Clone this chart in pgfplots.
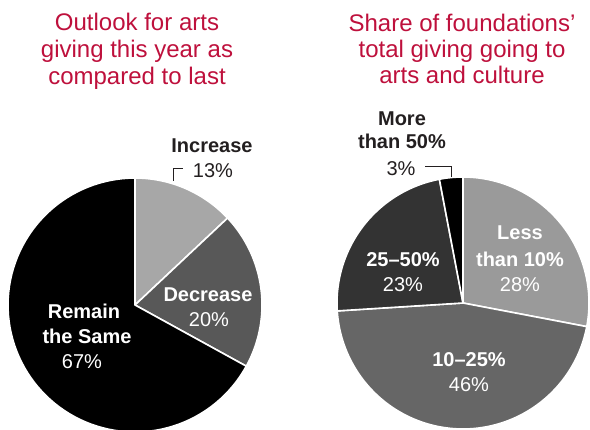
\documentclass[border=0pt]{standalone}
\usepackage{pgfplots}
\pgfplotsset{compat=1.18}
\usepackage{fontspec}
\setmainfont{Liberation Sans}
\definecolor{titlered}{RGB}{190,16,60}
\definecolor{ink}{RGB}{35,31,32}
\definecolor{lgA}{RGB}{167,167,167}
\definecolor{dgA}{RGB}{88,88,88}
\definecolor{lgB}{RGB}{154,154,154}
\definecolor{mgB}{RGB}{102,102,102}
\definecolor{dgB}{RGB}{51,51,51}
% slice: center x, center y, radius, start %, end %, colour
\newcommand{\slice}[6]{%
  \pgfmathsetmacro{\sa}{#4*3.6}%
  \pgfmathsetmacro{\sb}{#5*3.6}%
  \addplot[fill=#6, draw=white, line width=1.6bp, line join=round, domain=\sa:\sb, samples=90]
    ({#1+#3*sin(x)},{#2+#3*cos(x)}) -- (axis cs:#1,#2) -- cycle;
}
\newcommand{\ttl}[3]{\node[anchor=base, text=titlered, font=\fontsize{24bp}{27bp}\selectfont] at (axis cs:#1,#2) {#3};}
\newcommand{\lb}[4]{\node[anchor=base, text=#3, font=\fontsize{20bp}{24bp}\selectfont\bfseries] at (axis cs:#1,#2) {#4};}
\newcommand{\lr}[4]{\node[anchor=base, text=#3, font=\fontsize{20bp}{24bp}\selectfont] at (axis cs:#1,#2) {#4};}
\begin{document}
\begin{tikzpicture}
\useasboundingbox (0,0) rectangle (590bp,430bp);
\begin{axis}[at={(0,0)}, anchor=south west, scale only axis,
  width=590bp, height=430bp, xmin=0, xmax=590, ymin=0, ymax=430,
  hide axis, clip=true]
% left pie: Increase 13, Decrease 20, Remain the Same 67
\slice{135}{125}{127}{0}{13}{lgA}
\slice{135}{125}{127}{13}{33}{dgA}
\slice{135}{125}{127}{33}{100}{black}
% right pie: Less than 10% 28, 10-25% 46, 25-50% 23, More than 50% 3
\slice{463}{127}{126}{0}{28}{lgB}
\slice{463}{127}{126}{28}{74}{mgB}
\slice{463}{127}{126}{74}{97}{dgB}
\slice{463}{127}{126}{97}{100}{black}
% connectors
\addplot[ink, line width=1bp] coordinates {(173,249) (173,261) (183,261)};
\addplot[ink, line width=1bp] coordinates {(425,263) (451,263) (451,253)};
% titles
\ttl{137}{400}{Outlook for arts}
\ttl{137}{373}{giving this year as}
\ttl{137}{346}{compared to last}
\ttl{462}{399}{Share of foundations’}
\ttl{462}{373}{total giving going to}
\ttl{462}{347}{arts and culture}
% left labels
\lb{212}{278}{ink}{Increase}
\lr{213}{252}{ink}{13\%}
\lb{208}{128}{white}{Decrease}
\lr{209}{103}{white}{20\%}
\lb{84}{111}{white}{Remain}
\lb{87}{86}{white}{the Same}
\lr{82}{61}{white}{67\%}
% right labels
\lb{402}{305}{ink}{More}
\lb{402}{282}{ink}{than 50\%}
\lr{401}{255}{ink}{3\%}
\lb{520}{190}{white}{Less}
\lb{520}{163}{white}{than 10\%}
\lr{520}{138}{white}{28\%}
\lb{403}{163}{white}{25–50\%}
\lr{403}{138}{white}{23\%}
\lb{469}{63}{white}{10–25\%}
\lr{469}{38}{white}{46\%}
\end{axis}
\end{tikzpicture}
\end{document}
